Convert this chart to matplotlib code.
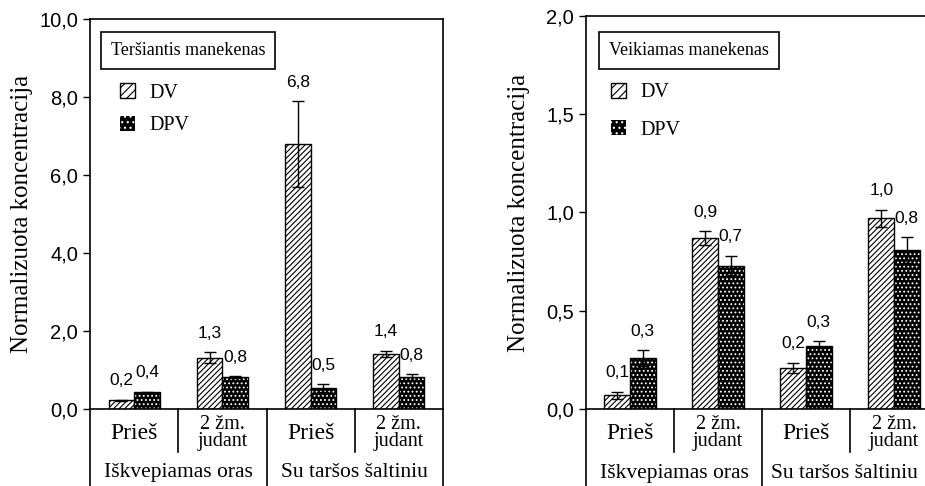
import numpy as np
import matplotlib
matplotlib.use("Agg")
import matplotlib.pyplot as plt
from matplotlib.patches import Patch
from matplotlib.ticker import FuncFormatter, MultipleLocator

plt.rcParams['hatch.linewidth'] = 0.8

# ---------------- data ----------------
categories = ["Prieš", "2 žm.\njudant", "Prieš", "2 žm.\njudant"]
groups = ["Iškvepiamas oras", "Su taršos šaltiniu"]
series = ["DV", "DPV"]

# Teršiantis manekenas
left_dv = [0.22, 1.32, 6.79, 1.41]
left_dv_err = [0.02, 0.14, 1.1, 0.08]
left_dpv = [0.43, 0.82, 0.54, 0.82]
left_dpv_err = [0.01, 0.02, 0.1, 0.07]

# Veikiamas manekenas
right_dv = [0.07, 0.87, 0.21, 0.97]
right_dv_err = [0.018, 0.035, 0.025, 0.045]
right_dpv = [0.26, 0.73, 0.32, 0.81]
right_dpv_err = [0.04, 0.05, 0.025, 0.065]

SERIF = "Liberation Serif"
SANS = "Liberation Sans"
W = 0.29


def comma(v, pos=None):
    return f"{v:.1f}".replace(".", ",")


def draw_panel(ax, dv, dv_err, dpv, dpv_err, ymax, step, title, title_xy, leg_xy, leg_space,
               ylab_x, group_shift):
    x = np.arange(len(categories))
    # DV: white with diagonal lines
    ax.bar(x - W / 2, dv, W, facecolor="white", edgecolor="black",
           hatch="//////", linewidth=1, zorder=2)
    # DPV: black with white dots, then black outline
    ax.bar(x + W / 2, dpv, W, color="black", edgecolor="white",
           hatch="....", linewidth=0, zorder=2)
    ax.bar(x + W / 2, dpv, W, fill=False, edgecolor="black", linewidth=1, zorder=3)

    ax.errorbar(x - W / 2, dv, yerr=dv_err, fmt="none", ecolor="black",
                elinewidth=1, capsize=4, capthick=1, zorder=4)
    ax.errorbar(x + W / 2, dpv, yerr=dpv_err, fmt="none", ecolor="black",
                elinewidth=1, capsize=4, capthick=1, zorder=4)

    for xs, vals, errs in [(x - W / 2, dv, dv_err), (x + W / 2, dpv, dpv_err)]:
        for xi, v, e in zip(xs, vals, errs):
            ax.annotate(comma(v), (xi, v + e), xytext=(0, 19), textcoords="offset pixels",
                        ha="center", va="center", fontsize=12.5, family=SANS)

    ax.set_xlim(-0.5, len(categories) - 0.5)
    ax.set_ylim(0, ymax)
    ax.yaxis.set_major_locator(MultipleLocator(step))
    ax.yaxis.set_major_formatter(FuncFormatter(comma))
    ax.tick_params(axis="y", direction="out", length=5, width=1, labelsize=14.5)
    for lab in ax.get_yticklabels():
        lab.set_family(SANS)
    ax.set_xticks([])
    for s in ax.spines.values():
        s.set_linewidth(1.2)

    ax.set_ylabel("Normalizuota koncentracija", family=SERIF, fontsize=18)
    ax.yaxis.set_label_coords(ylab_x, 0.5)

    # category table below the axis
    tr = ax.get_xaxis_transform()
    kw = dict(color="black", lw=1.2, clip_on=False, transform=tr)
    ax.plot([-0.5, -0.5], [0, -0.3], **kw)
    ax.plot([3.5, 3.5], [0, -0.3], **kw)
    ax.plot([1.5, 1.5], [0, -0.3], **kw)
    ax.plot([0.5, 0.5], [0, -0.11], **kw)
    ax.plot([2.5, 2.5], [0, -0.11], **kw)
    for i, c in enumerate(categories):
        if "\n" in c:
            ax.text(i, -0.062, c, transform=tr, ha="center", va="center",
                    family=SERIF, fontsize=14.5, linespacing=0.85)
        else:
            ax.text(i, -0.062, c, transform=tr, ha="center", va="center",
                    family=SERIF, fontsize=17)
    for g, name in enumerate(groups):
        ax.text(2 * g + 0.5 - group_shift * g, -0.163, name, transform=tr, ha="center",
                va="center", family=SERIF, fontsize=15.5)

    ax.text(title_xy[0], title_xy[1], title, transform=ax.transAxes, ha="left", va="center",
            family=SERIF, fontsize=13,
            bbox=dict(boxstyle="square,pad=0.55", facecolor="white", edgecolor="black", linewidth=1.2))

    handles = [Patch(facecolor="white", edgecolor="black", hatch="////", linewidth=1),
               Patch(facecolor="black", edgecolor="white", hatch="...", linewidth=0)]
    ax.legend(handles, series, loc="upper left", bbox_to_anchor=leg_xy, frameon=False,
              prop={"family": SERIF, "size": 14.5}, handlelength=0.75, handleheight=0.75,
              handletextpad=0.7, labelspacing=leg_space, borderpad=0, borderaxespad=0)


fig = plt.figure(figsize=(9.25, 4.86), dpi=100)
ax1 = fig.add_axes([90 / 925, 77 / 486, 353 / 925, 390 / 486])
ax2 = fig.add_axes([586 / 925, 77 / 486, 352 / 925, 393 / 486])

draw_panel(ax1, left_dv, left_dv_err, left_dpv, left_dpv_err, 10, 2,
           "Teršiantis manekenas", (0.059, 0.919), (0.085, 0.835), 0.65, -0.162, 0.0)
draw_panel(ax2, right_dv, right_dv_err, right_dpv, right_dpv_err, 2, 0.5,
           "Veikiamas manekenas", (0.065, 0.912), (0.072, 0.83), 0.9, -0.16, 0.06)

fig.savefig("out.png", dpi=100)
